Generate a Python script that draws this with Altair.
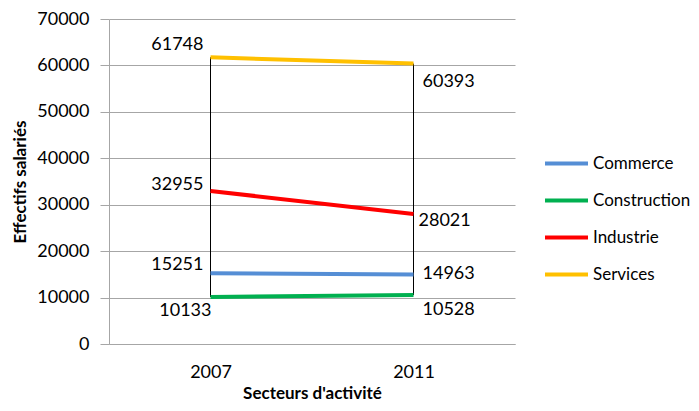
import altair as alt
import pandas as pd

years = ["2007", "2011"]
series = ["Commerce", "Construction", "Industrie", "Services"]
commerce = [15251, 14963]
construction = [10133, 10528]
industrie = [32955, 28021]
services = [61748, 60393]
colors = ["#558ED5", "#00B050", "#FF0000", "#FFC000"]
y_ticks = [0, 10000, 20000, 30000, 40000, 50000, 60000, 70000]

rows = []
for s, vals in zip(series, [commerce, construction, industrie, services]):
    for yr, v in zip(years, vals):
        rows.append({"annee": yr, "secteur": s, "valeur": v})
df = pd.DataFrame(rows)

FONT = "Lato"
GRID = "#A6A6A6"
FS = 18

x_enc = alt.X(
    "annee:N",
    title="Secteurs d'activité",
    scale=alt.Scale(type="point", padding=0.5),
    axis=alt.Axis(
        labelAngle=0, ticks=False, domain=True, domainColor=GRID, grid=False,
        labelFont=FONT, labelFontSize=FS, labelColor="#000000", labelPadding=19,
        titleFont=FONT, titleFontSize=17, titleFontWeight="bold", titleColor="#000000",
        titlePadding=4,
    ),
)
y_enc = alt.Y(
    "valeur:Q",
    title="Effectifs salariés",
    scale=alt.Scale(domain=[0, 70000], nice=False),
    axis=alt.Axis(
        values=y_ticks, format="d", grid=True, gridColor=GRID, gridWidth=1,
        tickColor=GRID, tickSize=9, domainColor=GRID,
        labelFont=FONT, labelFontSize=FS, labelColor="#000000", labelPadding=11,
        titleFont=FONT, titleFontSize=17, titleFontWeight="bold", titleColor="#000000",
        titlePadding=7,
    ),
)

base = alt.Chart(df)

rules = base.mark_rule(color="black", strokeWidth=1).encode(
    x=x_enc,
    y=alt.Y("min(valeur):Q", title="Effectifs salariés"),
    y2="max(valeur):Q",
)

lines = base.mark_line(strokeWidth=4).encode(
    x=x_enc,
    y=y_enc,
    color=alt.Color(
        "secteur:N",
        scale=alt.Scale(domain=series, range=colors),
        legend=alt.Legend(
            title=None, orient="none", legendX=434, legendY=121,
            symbolType="stroke", symbolSize=1849, symbolStrokeWidth=4,
            labelFont=FONT, labelFontSize=17, labelColor="#000000",
            labelOffset=3, rowPadding=5, padding=0,
        ),
    ),
)

def label(yr, sect, dx, dy, align):
    return base.transform_filter(
        (alt.datum.annee == yr) & (alt.datum.secteur == sect)
    ).mark_text(
        font=FONT, fontSize=FS, color="#000000", align=align, baseline="middle",
        dx=dx, dy=dy,
    ).encode(x=x_enc, y=y_enc, text=alt.Text("valeur:Q", format="d"))

labels = [
    label("2007", "Services", -7, -12, "right"),
    label("2007", "Industrie", -7, -6, "right"),
    label("2007", "Commerce", -7, -8, "right"),
    label("2007", "Construction", 1, 14, "right"),
    label("2011", "Services", 9, 18, "left"),
    label("2011", "Industrie", 5, 7, "left"),
    label("2011", "Commerce", 9, -1, "left"),
    label("2011", "Construction", 9, 15, "left"),
]

chart = alt.layer(rules, lines, *labels).properties(
    width=406,
    height=325,
    autosize=alt.AutoSizeParams(type="none"),
    padding={"left": 101, "top": 11, "right": 176, "bottom": 59},
).configure_view(stroke=None)

chart.save("out.html", embed_options={"renderer": "svg", "actions": False})
